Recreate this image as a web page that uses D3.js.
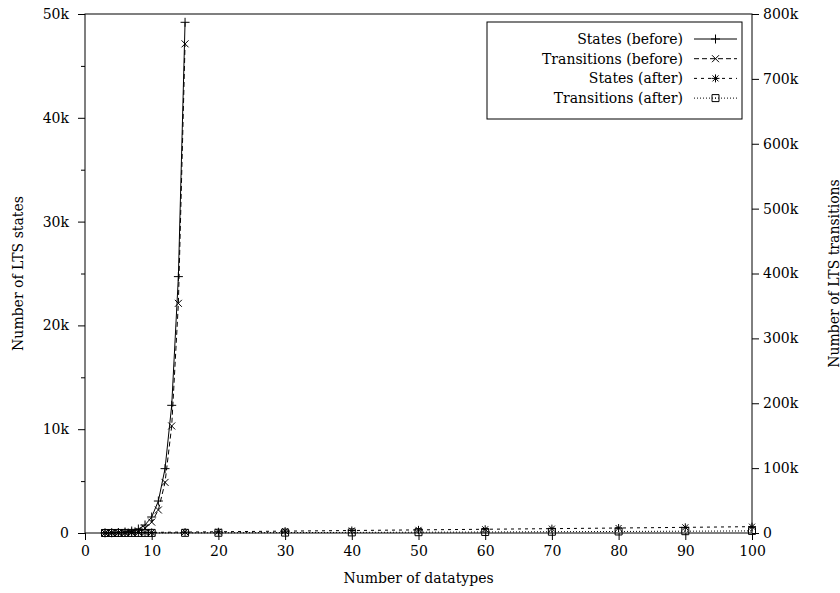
<!DOCTYPE html>
<html>
<head>
<meta charset="utf-8">
<script src="https://cdn.jsdelivr.net/npm/d3@7"></script>
<style>
    body { margin: 0; background: #fff; }
    svg text { font-family: "DejaVu Serif", serif; font-size: 14px; fill: #000; }
</style>
</head>
<body>
<svg id="chart" width="840" height="593"></svg>
<script>
// values
var nBefore = [3, 4, 5, 6, 7, 8, 9, 10, 11, 12, 13, 14, 15];
var statesBefore = [12, 24, 48, 96, 192, 384, 770, 1540, 3080, 6200, 12300, 24700, 49200];
var transBefore = [50, 120, 290, 650, 1500, 3300, 7400, 16800, 35500, 78000, 165000, 354000, 754000];

var nAfter = [3, 4, 5, 6, 7, 8, 9, 10, 15, 20, 30, 40, 50, 60, 70, 80, 90, 100];
var statesAfter = [18, 24, 30, 36, 42, 48, 54, 60, 90, 120, 180, 240, 300, 360, 420, 480, 545, 610];
var transAfter = [30, 45, 60, 80, 100, 120, 140, 160, 260, 380, 640, 920, 1240, 1580, 1950, 2350, 2780, 3240];

var xTicks = [0, 10, 20, 30, 40, 50, 60, 70, 80, 90, 100];
var leftTicks = [0, 10000, 20000, 30000, 40000, 50000];
var leftMinor = [5000, 15000, 25000, 35000, 45000];
var rightTicks = [0, 100000, 200000, 300000, 400000, 500000, 600000, 700000, 800000];

var seriesNames = ['States (before)', 'Transitions (before)', 'States (after)', 'Transitions (after)'];

var svg = d3.select('#chart');

var x = d3.scaleLinear().domain([0, 100]).range([85, 752]),
    yStates = d3.scaleLinear().domain([0, 50000]).range([533, 14]),
    yTrans = d3.scaleLinear().domain([0, 800000]).range([533, 14]);

var fmtK = function(d) { return d === 0 ? '0' : (d / 1000) + 'k'; };

// marker glyphs
var glyph = {
    plus: 'M-4.5,0H4.5M0,-4.5V4.5',
    cross: 'M-3.5,-3.5L3.5,3.5M-3.5,3.5L3.5,-3.5',
    star: 'M-4,0H4M0,-4V4M-3,-3L3,3M-3,3L3,-3',
    box: 'M-3.5,-3.5H3.5V3.5H-3.5ZM-0.5,0H0.5'
};

var series = [
    {name: seriesNames[0], xs: nBefore, ys: statesBefore, scale: yStates, dash: null, glyph: glyph.plus},
    {name: seriesNames[1], xs: nBefore, ys: transBefore, scale: yTrans, dash: '5,3', glyph: glyph.cross},
    {name: seriesNames[2], xs: nAfter, ys: statesAfter, scale: yStates, dash: '3,4', glyph: glyph.star},
    {name: seriesNames[3], xs: nAfter, ys: transAfter, scale: yTrans, dash: '1,2', glyph: glyph.box}
];

// axes
var gLeft = svg.append('g').attr('transform', 'translate(85,0)')
    .call(d3.axisLeft(yStates).tickValues(leftTicks).tickFormat(fmtK).tickSize(7).tickPadding(9));
var gLeftMinor = svg.append('g').attr('transform', 'translate(85,0)')
    .call(d3.axisLeft(yStates).tickValues(leftMinor).tickFormat('').tickSize(4));
var gRight = svg.append('g').attr('transform', 'translate(752,0)')
    .call(d3.axisRight(yTrans).tickValues(rightTicks).tickFormat(fmtK).tickSize(7).tickPadding(4));
var gBottom = svg.append('g').attr('transform', 'translate(0,533)')
    .call(d3.axisBottom(x).tickValues(xTicks).tickSize(7).tickPadding(6));

[gLeft, gLeftMinor, gRight, gBottom].forEach(function(g) {
    g.select('.domain').remove();
    g.selectAll('text').attr('font-family', null).attr('font-size', null);
    g.selectAll('line').attr('stroke', '#000');
});

// frame
svg.append('rect')
    .attr('x', x(0)).attr('y', yStates(50000))
    .attr('width', x(100) - x(0)).attr('height', yStates(0) - yStates(50000))
    .attr('fill', 'none').attr('stroke', '#000').attr('stroke-width', 1);

// axis titles
svg.append('text').attr('x', (x(0) + x(100)) / 2).attr('y', 583)
    .attr('text-anchor', 'middle').text('Number of datatypes');
svg.append('text').attr('transform', 'translate(23,' + yStates(25000) + ') rotate(-90)')
    .attr('text-anchor', 'middle').text('Number of LTS states');
// no descenders in this label, so the baseline can sit right at the edge
svg.append('text').attr('transform', 'translate(838.5,' + yStates(25000) + ') rotate(-90)')
    .attr('text-anchor', 'middle').text('Number of LTS transitions');

// lines + markers
series.forEach(function(s) {
    var pts = s.xs.map(function(d, i) { return [x(d), s.scale(s.ys[i])]; });
    svg.append('path')
        .attr('d', d3.line()(pts))
        .attr('fill', 'none').attr('stroke', '#000').attr('stroke-width', 1)
        .attr('stroke-dasharray', s.dash);
    svg.append('g').selectAll('path').data(pts).enter().append('path')
        .attr('transform', function(p) { return 'translate(' + p[0] + ',' + p[1] + ')'; })
        .attr('d', s.glyph)
        .attr('fill', 'none').attr('stroke', '#000').attr('stroke-width', 1);
});

// legend
var legend = svg.append('g');
legend.append('rect').attr('x', 487).attr('y', 22).attr('width', 255).attr('height', 97)
    .attr('fill', '#fff').attr('stroke', '#000');
series.forEach(function(s, i) {
    var yy = 39 + i * 19.7;
    legend.append('text').attr('x', 683).attr('y', yy).attr('dy', '0.35em')
        .attr('text-anchor', 'end').text(s.name);
    legend.append('line').attr('x1', 694).attr('x2', 737).attr('y1', yy).attr('y2', yy)
        .attr('stroke', '#000').attr('stroke-dasharray', s.dash);
    legend.append('path').attr('transform', 'translate(715.5,' + yy + ')')
        .attr('d', s.glyph).attr('fill', 'none').attr('stroke', '#000');
});
</script>
</body>
</html>
